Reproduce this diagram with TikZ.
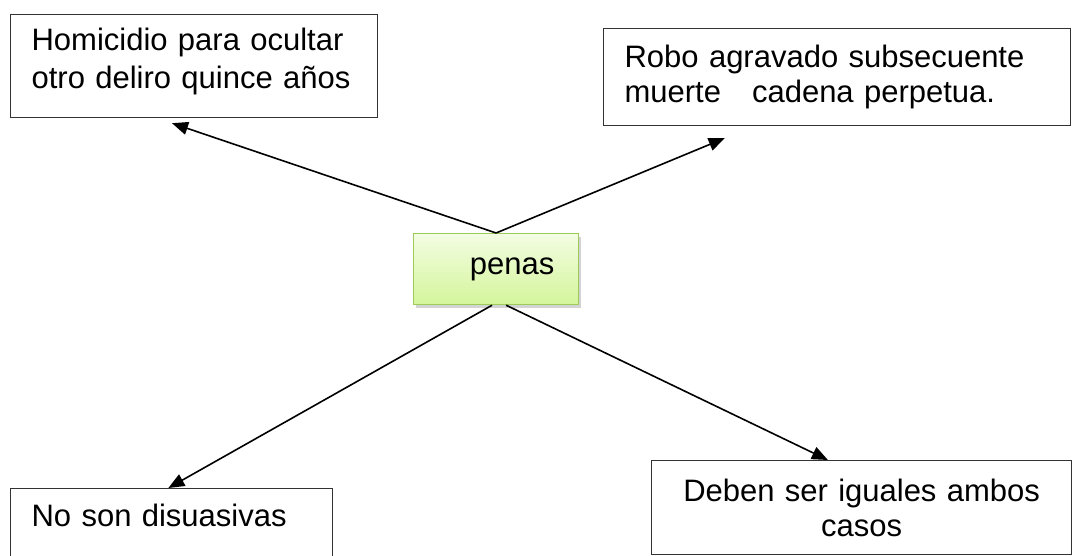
\documentclass[tikz,border=0pt]{standalone}
\usepackage{fontspec}
\setmainfont{Liberation Sans}
\usetikzlibrary{positioning, calc, arrows.meta, shadows}

\definecolor{penas_border}{HTML}{9CCB5C}
\definecolor{penas_top}{HTML}{F3FDE3}
\definecolor{penas_bottom}{HTML}{D4F59B}

\begin{document}
\begin{tikzpicture}[x=1pt, y=-1pt,
plain_box/.style={rectangle, draw=black!80, line width=1.2pt, fill=white, inner ysep=0pt, font=\fontsize{31}{35}\selectfont},
left_box/.style={plain_box, align=left, inner xsep=21pt},
centered_box/.style={plain_box, align=center, inner xsep=10pt},
penas_box/.style={rectangle, draw=penas_border, line width=1.2pt, top color=penas_top, bottom color=penas_bottom, minimum width=165pt, minimum height=71pt, font=\fontsize{31}{35}\selectfont, drop shadow={shadow xshift=2pt, shadow yshift=-3pt, opacity=0.35}},
out_arrow/.style={-{Triangle[length=16pt, width=13pt]}, line width=1.6pt}
]
\useasboundingbox (0,0) rectangle (1074,556);

% \node[type](name_of_node)[anchor] at (x,y) {node_text};

\node[left_box, anchor=north west, text width=325pt, text height=36pt, text depth=67pt, font=\fontsize{31}{38}\selectfont](homicidio) at (10,14) {Homicidio para ocultar\\otro deliro quince años};
\node[left_box, anchor=north west, text width=425pt, minimum height=97pt](robo) at (603,28) {Robo agravado subsecuente\\muerte\ \ \ cadena perpetua.};

\node[penas_box, anchor=north west](penas) at (413,233) {\hspace*{32pt}\raisebox{3pt}{penas}};

\node[left_box, anchor=north west, text width=280pt, text height=38pt, text depth=49pt](disuasivas) at (10,488) {No son disuasivas};
\node[centered_box, anchor=north west, text width=400pt, minimum height=94pt](iguales) at (651,460) {Deben ser iguales ambos\\casos};

% \draw[->](name_of_node.direction) -- (point on the other node)

\draw[out_arrow](penas.north) to [] ($(homicidio.south west)!0.44!(homicidio.south east)+(0,5)$);
\draw[out_arrow](penas.north) to [] ($(robo.south west)!0.26!(robo.south east)+(0,12)$);
\draw[out_arrow]([xshift=-4pt]penas.south) to [] ($(disuasivas.north west)!0.49!(disuasivas.north east)$);
\draw[out_arrow]([xshift=10pt]penas.south) to [] ($(iguales.north west)!0.42!(iguales.north east)$);

\end{tikzpicture}
\end{document}
